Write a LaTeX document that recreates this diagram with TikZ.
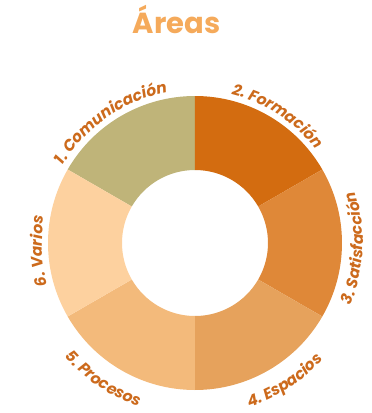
\documentclass[tikz,border=0pt]{standalone}
\usepackage{fontspec}
\setmainfont{Poppins}
\usetikzlibrary{decorations.text}
\definecolor{areac}{HTML}{F5AA5B}
\definecolor{lblc}{HTML}{CC6A1C}
\definecolor{segA}{HTML}{BFB479}
\definecolor{segB}{HTML}{D36C10}
\definecolor{segC}{HTML}{DF8838}
\definecolor{segD}{HTML}{E6A25C}
\definecolor{segE}{HTML}{F3BA7B}
\definecolor{segF}{HTML}{FDD19F}
\newcommand{\lblfont}{\fontsize{15.5}{18}\selectfont\bfseries\itshape}
\tikzset{
  lbl/.style={decorate, decoration={text along path, text align=center, text color=lblc}},
}
\begin{document}
\begin{tikzpicture}[x=1pt,y=1pt]
\useasboundingbox (-195,-170) rectangle (177,243);
% Titel
\node[anchor=base, text=areac, font=\fontsize{29}{34}\selectfont\bfseries] (title) at (-18.5,210) {Áreas};
% Ring
\fill[segA] (90:147) arc[start angle=90, end angle=150, radius=147] -- (150:73) arc[start angle=150, end angle=90, radius=73] -- cycle;
\fill[segB] (30:147) arc[start angle=30, end angle=90, radius=147] -- (90:73) arc[start angle=90, end angle=30, radius=73] -- cycle;
\fill[segC] (-30:147) arc[start angle=-30, end angle=30, radius=147] -- (30:73) arc[start angle=30, end angle=-30, radius=73] -- cycle;
\fill[segD] (-90:147) arc[start angle=-90, end angle=-30, radius=147] -- (-30:73) arc[start angle=-30, end angle=-90, radius=73] -- cycle;
\fill[segE] (-150:147) arc[start angle=-150, end angle=-90, radius=147] -- (-90:73) arc[start angle=-90, end angle=-150, radius=73] -- cycle;
\fill[segF] (150:147) arc[start angle=150, end angle=210, radius=147] -- (210:73) arc[start angle=210, end angle=150, radius=73] -- cycle;
% Beschriftung oben
\path[lbl, decoration={text={|\lblfont|1. Comunicación}}] (170:153) arc[start angle=170, end angle=80, radius=153];
\path[lbl, decoration={text={|\lblfont|2. Formación}}] (102:153) arc[start angle=102, end angle=12, radius=153];
\path[lbl, decoration={text={|\lblfont|6. Varios}}] (228:153) arc[start angle=228, end angle=138, radius=153];
% Beschriftung unten
\path[lbl, decoration={text={|\lblfont|3. Satisfacción}}] (-47:168) arc[start angle=-47, end angle=43, radius=168];
\path[lbl, decoration={text={|\lblfont|4. Espacios}}] (-102:173) arc[start angle=-102, end angle=-12, radius=173];
\path[lbl, decoration={text={|\lblfont|5. Procesos}}] (-169:173) arc[start angle=-169, end angle=-79, radius=173];
\end{tikzpicture}
\end{document}
